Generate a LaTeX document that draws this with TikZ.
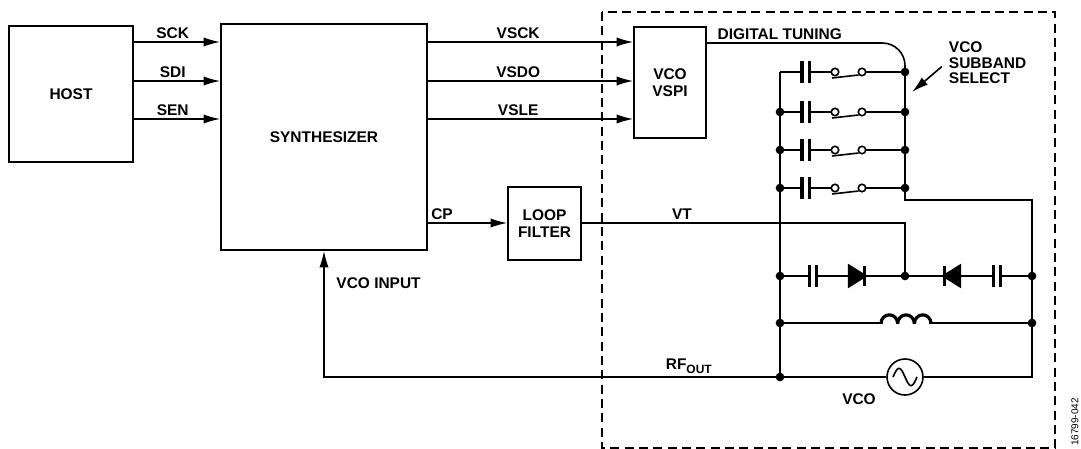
\documentclass[tikz,border=0pt]{standalone}
\usepackage{fontspec}
\setmainfont{Liberation Sans}
\usepackage[american]{circuitikz}
\usetikzlibrary{arrows.meta,calc}

\tikzset{
  blk/.style={draw,line width=1.2pt,align=center,inner sep=2pt},
  sig/.style={line width=1.2pt,-{Latex[length=12.5pt,width=7pt]}},
  wire/.style={line width=1.2pt},
  lbl/.style={inner sep=2pt},
  jdot/.style={circle,fill,inner sep=0pt,minimum size=6.5pt},
  osc/.style={circle,draw,line width=1.2pt,inner sep=0pt,minimum size=27pt},
}
\ctikzset{bipoles/length=22pt, inductors/coils=3, inductors/scale=2,
  diodes/scale=1.3, capacitors/scale=1.25}

\begin{document}
\begin{tikzpicture}[x=0.75pt,y=0.75pt,font=\bfseries\fontsize{11.6}{12.75}\selectfont]
\useasboundingbox (0,0) rectangle (1081,-449);

% blocks
\node[blk,minimum width=93pt,minimum height=102pt] (host) at (71,-94) {HOST};
\node[blk,minimum width=154.5pt,minimum height=169.5pt] (synth) at (324,-137) {SYNTHESIZER};
\node[blk,minimum width=54pt,minimum height=83.25pt] (vspi) at (670,-82.5) {VCO\\VSPI};
\node[blk,minimum width=54.75pt,minimum height=54.75pt] (loop) at (544.5,-223.5) {LOOP\\FILTER};

% serial interface
\draw[sig] (host.east |- 0,-42) -- node[lbl,above,pos=.45] {SCK} (synth.west |- 0,-42);
\draw[sig] (host.east |- 0,-81) -- node[lbl,above,pos=.45] {SDI} (synth.west |- 0,-81);
\draw[sig] (host.east |- 0,-119) -- node[lbl,above,pos=.45] {SEN} (synth.west |- 0,-119);
\draw[sig] (synth.east |- 0,-42) -- node[lbl,above,pos=.44] {VSCK} (vspi.west |- 0,-42);
\draw[sig] (synth.east |- 0,-81) -- node[lbl,above,pos=.44] {VSDO} (vspi.west |- 0,-81);
\draw[sig] (synth.east |- 0,-119) -- node[lbl,above,pos=.44] {VSLE} (vspi.west |- 0,-119);
\draw[sig] (synth.east |- 0,-223) -- node[lbl,above right,pos=0] {CP} (loop.west |- 0,-223);

% VCO enclosure
\draw[wire,dash pattern=on 6.75pt off 4pt] (602,-12) rectangle (1055,-448);

% tank rails
\coordinate (lt) at (780,-72);
\coordinate (lb) at (780,-377);
\coordinate (rt) at (905,-72);
\coordinate (vmid) at (905,-276);
\coordinate (vr) at (1032,-276);
\draw[wire] (lt) -- (lb);
\draw[wire] (rt) -- (905,-200) -- (1032,-200) -- (1032,-377);

% subband capacitor bank
\foreach \y [count=\i] in {72,112,150,188}{
  \draw[wire] (780,-\y) to[C] (831.3,-\y);
  \draw[wire] (835,-\y) circle[radius=2.8pt] (862,-\y) circle[radius=2.8pt];
  \draw[wire] (832,-\y-6) -- (858.5,-\y-3);
  \draw[wire] (865.7,-\y) -- (905,-\y);
  \node[jdot] at (905,-\y) {};
  \ifnum\i>1 \node[jdot] at (780,-\y) {}; \fi
}
\draw[wire,rounded corners=17pt] (vspi.east |- 0,-43)
  -- node[lbl,above right,pos=0,xshift=5.5pt] {DIGITAL TUNING} (905,-43) -- (rt);

% varactors
\draw[wire] (780,-276) -- (790,-276) to[C] (836,-276) to[D*] (878,-276) -- (vmid);
\draw[wire] (vr) -- (1020,-276) to[C] (974,-276) to[D*] (930,-276) -- (vmid);
\draw[wire] (loop.east |- 0,-223) -- node[lbl,above,pos=.31] {VT} (905,-223) -- (vmid);

% inductor and core
\draw[wire] (780,-323) to[L] (1032,-323);
\node[osc] (core) at (905,-377) {};
\draw[wire] ([xshift=-9pt]core.center) sin ++(4.5pt,6.5pt) cos ++(4.5pt,-6.5pt)
  sin ++(4.5pt,-6.5pt) cos ++(4.5pt,6.5pt);
\draw[wire] (lb) -- (core) -- (1032,-377) -- (1032,-323);
\foreach \p in {(780,-276),(vmid),(vr),(780,-323),(1032,-323),(lb)}
  \node[jdot] at \p {};
\node[lbl] (vcotxt) at (859,-399) {VCO};

% subband pointer
\node[lbl,align=left,anchor=west,font=\bfseries\fontsize{11.6}{11.6}\selectfont] (sub) at (946,-63) {VCO\\SUBBAND\\SELECT};
\coordinate (subtip) at (912,-92);
\draw[sig,shorten <=4pt] (sub.west) -- (subtip);

% feedback
\draw[sig] (lb) -- node[lbl,above,pos=.2] {RF\raisebox{-3pt}{\fontsize{9}{9}\selectfont OUT}} (lb -| synth.south)
  -- node[lbl,right,pos=.74,xshift=6.75pt] {VCO INPUT} (synth.south);

\node[rotate=90,font=\mdseries\fontsize{7.5}{8}\selectfont] (figid) at (1075,-422) {16799-042};
\end{tikzpicture}
\end{document}
